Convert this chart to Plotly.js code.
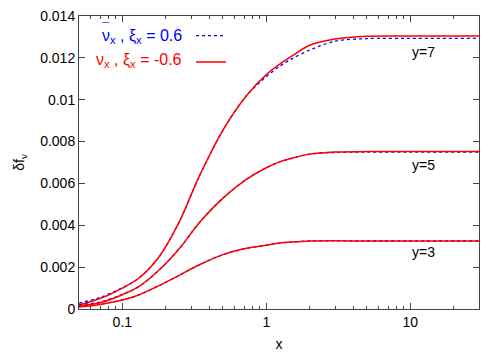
<!DOCTYPE html>
<html>
<head>
<meta charset="utf-8">
<script src="https://cdn.plot.ly/plotly-3.0.1.min.js"></script>
<style>
  html, body { margin: 0; padding: 0; background: #fff; }
  #grafico { width: 503px; height: 352px; }
</style>
</head>
<body>
<div id="grafico"></div>
<script>
// valores de x (escala log)
const xVals = [0.05, 0.07, 0.1, 0.13, 0.18, 0.25, 0.34, 0.5, 0.73, 1, 1.24, 1.5, 2, 3, 5, 10, 30];

// nu_x, xi = -0.6 (vermelho)
const nuY3 = [0.0001, 0.00022, 0.00043, 0.00067, 0.00112, 0.00162, 0.0021, 0.0026, 0.0029, 0.00305, 0.00315, 0.0032, 0.00325, 0.00326, 0.00325, 0.00325, 0.00325];
const nuY5 = [0.00015, 0.0003, 0.00068, 0.00107, 0.00186, 0.0029, 0.0041, 0.0053, 0.0062, 0.00675, 0.00703, 0.0072, 0.0074, 0.0075, 0.00752, 0.00752, 0.00752];
const nuY7 = [0.0002, 0.0005, 0.001, 0.00147, 0.0025, 0.0042, 0.0063, 0.00855, 0.0102, 0.0112, 0.0117, 0.01208, 0.0126, 0.0129, 0.01303, 0.01304, 0.01304];

// anti-nu_x, xi = 0.6 (azul)
const nubarY3 = [0.00012, 0.00023, 0.00043, 0.00067, 0.00112, 0.00162, 0.0021, 0.0026, 0.0029, 0.00305, 0.00315, 0.0032, 0.00325, 0.00326, 0.00325, 0.00325, 0.00325];
const nubarY5 = [0.0002, 0.00033, 0.0007, 0.00107, 0.00186, 0.0029, 0.0041, 0.0053, 0.0062, 0.00675, 0.00703, 0.0072, 0.0074, 0.00748, 0.0075, 0.0075, 0.0075];
const nubarY7 = [0.00028, 0.00055, 0.00102, 0.00147, 0.0025, 0.0042, 0.0063, 0.00855, 0.0102, 0.0111, 0.0116, 0.01195, 0.01237, 0.0128, 0.01292, 0.01293, 0.01293];

const curveLabels = ['y=3', 'y=5', 'y=7'];
const labelY = [0.00274, 0.00688, 0.01229];

const yTicks = [0, 0.002, 0.004, 0.006, 0.008, 0.01, 0.012, 0.014];
const yTickText = ['0', '0.002', '0.004', '0.006', '0.008', '0.01', '0.012', '0.014'];
const xTicks = [0.1, 1, 10];
const xMinor = [0.05, 0.06, 0.07, 0.08, 0.09, 0.2, 0.3, 0.4, 0.5, 0.6, 0.7, 0.8, 0.9, 2, 3, 4, 5, 6, 7, 8, 9, 20, 30];

const azul = '#0000ff';
const vermelho = '#ff0000';

function curva(y, cor, dash, legenda) {
    return {
        x: xVals, y: y, type: 'scatter', mode: 'lines',
        line: { color: cor, width: dash ? 1.3 : 1.5, dash: dash || 'solid', shape: 'spline', smoothing: 0.9 },
        name: ' ', showlegend: legenda
    };
}

const data = [
    curva(nubarY7, azul, 'dot', true),
    curva(nuY7, vermelho, null, true),
    curva(nubarY5, azul, 'dot', false),
    curva(nubarY3, azul, 'dot', false),
    curva(nuY5, vermelho, null, false),
    curva(nuY3, vermelho, null, false)
];

const familia = 'Liberation Sans, Arial, sans-serif';
const fonte = { family: familia, size: 14, color: '#000' };

const annotations = curveLabels.map((t, i) => ({
    x: 1, y: labelY[i], xref: 'x', yref: 'y', text: t, showarrow: false,
    xanchor: 'left', yanchor: 'middle', font: fonte
}));

// legenda em texto (a amostra da linha vem da legenda do plotly)
annotations.push(
    {
        x: 0.262, y: 0.93, xref: 'paper', yref: 'paper', showarrow: false,
        xanchor: 'right', yanchor: 'middle',
        text: 'ν<sub>x</sub> , ξ<sub>x</sub> = 0.6',
        font: { family: familia, size: 16, color: azul }
    },
    {
        x: 0.067, y: 0.96, xref: 'paper', yref: 'paper', showarrow: false,
        xanchor: 'center', yanchor: 'middle',
        text: '¯',
        font: { family: familia, size: 13, color: azul }
    },
    {
        x: 0.262, y: 0.847, xref: 'paper', yref: 'paper', showarrow: false,
        xanchor: 'right', yanchor: 'middle',
        text: 'ν<sub>x</sub> , ξ<sub>x</sub> = -0.6',
        font: { family: familia, size: 16, color: vermelho }
    }
);

const layout = {
    width: 503, height: 352,
    margin: { l: 79, r: 24, t: 16, b: 43 },
    paper_bgcolor: '#fff', plot_bgcolor: '#fff',
    font: fonte,
    showlegend: true,
    legend: {
        x: 0.28, y: 0.995, xanchor: 'left', yanchor: 'top',
        bgcolor: 'rgba(0,0,0,0)', font: { size: 18 }, itemwidth: 30
    },
    xaxis: {
        type: 'log', range: [Math.log10(0.05), Math.log10(30)],
        tickvals: xTicks, ticktext: ['0.1', '1', '10'],
        ticks: 'inside', ticklen: 6, tickcolor: '#444',
        minor: { tickvals: xMinor, ticks: 'inside', ticklen: 3, tickcolor: '#444', showgrid: false },
        showline: true, linecolor: '#444', linewidth: 1, mirror: 'ticks',
        showgrid: false, zeroline: false,
        title: { text: 'x', font: fonte, standoff: 10 }
    },
    yaxis: {
        range: [0, 0.014],
        tickvals: yTicks, ticktext: yTickText,
        ticks: 'inside', ticklen: 6, tickcolor: '#444',
        showline: true, linecolor: '#444', linewidth: 1, mirror: 'ticks',
        showgrid: false, zeroline: false,
        title: { text: 'δf<sub>ν</sub>', font: fonte, standoff: 12 }
    },
    annotations: annotations
};

Plotly.newPlot('grafico', data, layout, { displayModeBar: false, staticPlot: true });
</script>
</body>
</html>
